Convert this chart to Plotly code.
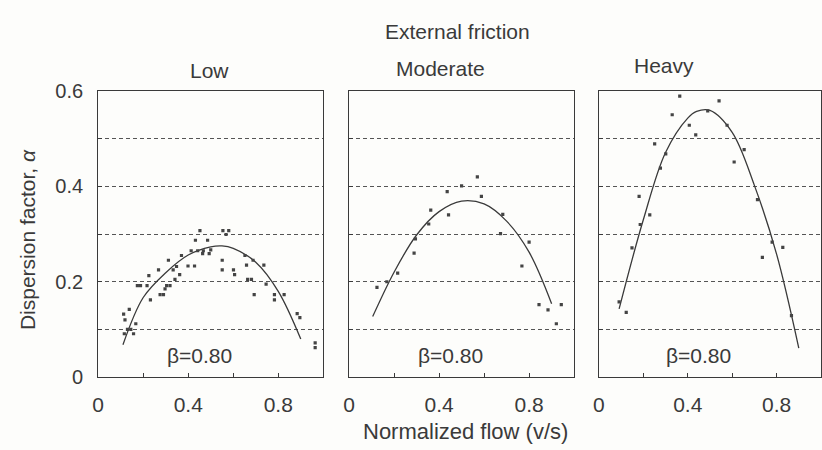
import plotly.graph_objects as go

# ---------------- data ----------------
low_x = [0.113, 0.119, 0.138, 0.116, 0.130, 0.145, 0.157, 0.167, 0.174, 0.188,
         0.217, 0.225, 0.232, 0.268, 0.275, 0.290, 0.297, 0.304, 0.312, 0.319,
         0.333, 0.341, 0.348, 0.362, 0.370, 0.399, 0.413, 0.428, 0.432, 0.442,
         0.452, 0.464, 0.467, 0.486, 0.493, 0.500, 0.551, 0.551, 0.554, 0.568,
         0.580, 0.601, 0.606, 0.652, 0.659, 0.664, 0.681, 0.688, 0.693, 0.736,
         0.746, 0.783, 0.783, 0.826, 0.884, 0.896, 0.964, 0.964]
low_y = [0.132, 0.120, 0.142, 0.091, 0.100, 0.100, 0.091, 0.112, 0.192, 0.192,
         0.192, 0.213, 0.162, 0.225, 0.173, 0.173, 0.185, 0.192, 0.245, 0.192,
         0.225, 0.205, 0.232, 0.215, 0.255, 0.233, 0.265, 0.233, 0.287, 0.265,
         0.307, 0.259, 0.265, 0.287, 0.259, 0.267, 0.245, 0.225, 0.307, 0.299,
         0.307, 0.225, 0.215, 0.255, 0.235, 0.205, 0.205, 0.245, 0.173, 0.235,
         0.195, 0.173, 0.162, 0.173, 0.133, 0.125, 0.072, 0.062]
low_fit_x = [0.11, 0.2, 0.3, 0.4, 0.5, 0.55, 0.6, 0.7, 0.8, 0.9]
low_fit_y = [0.068, 0.167, 0.219, 0.256, 0.273, 0.275, 0.270, 0.241, 0.180, 0.080]

mod_x = [0.124, 0.168, 0.216, 0.289, 0.295, 0.354, 0.363, 0.436, 0.442, 0.500,
         0.570, 0.588, 0.673, 0.683, 0.768, 0.800, 0.844, 0.884, 0.921, 0.943]
mod_y = [0.188, 0.200, 0.218, 0.260, 0.290, 0.321, 0.350, 0.389, 0.340, 0.401,
         0.420, 0.379, 0.301, 0.341, 0.233, 0.283, 0.152, 0.141, 0.112, 0.152]
mod_fit_x = [0.105, 0.2, 0.3, 0.4, 0.5, 0.6, 0.7, 0.8, 0.9]
mod_fit_y = [0.127, 0.220, 0.298, 0.347, 0.369, 0.363, 0.327, 0.262, 0.154]

hvy_x = [0.091, 0.123, 0.149, 0.181, 0.186, 0.229, 0.251, 0.277, 0.301, 0.330,
         0.364, 0.407, 0.436, 0.490, 0.541, 0.577, 0.609, 0.654, 0.714, 0.736,
         0.780, 0.828, 0.867]
hvy_y = [0.158, 0.136, 0.271, 0.379, 0.320, 0.340, 0.489, 0.438, 0.468, 0.550,
         0.589, 0.528, 0.508, 0.558, 0.579, 0.528, 0.451, 0.477, 0.372, 0.251,
         0.283, 0.272, 0.129]
hvy_fit_x = [0.091, 0.2, 0.3, 0.4, 0.44, 0.5, 0.6, 0.7, 0.8, 0.9]
hvy_fit_y = [0.143, 0.330, 0.471, 0.543, 0.557, 0.559, 0.513, 0.402, 0.258, 0.061]

panel_names = ["Low", "Moderate", "Heavy"]
beta_label = "β=0.80"
x_tickvals = [0, 0.2, 0.4, 0.6, 0.8]
x_ticktext = ["0", "", "0.4", "", "0.8"]
y_tickvals = [0, 0.1, 0.2, 0.3, 0.4, 0.5, 0.6]
y_ticktext = ["0", "", "0.2", "", "0.4", "", "0.6"]

# ---------------- figure ----------------
INK = "#3a3a3a"
FONT = "Liberation Sans, Arial, sans-serif"
W, H = 822, 450

fig = go.Figure()

panels = [
    (low_x, low_y, low_fit_x, low_fit_y),
    (mod_x, mod_y, mod_fit_x, mod_fit_y),
    (hvy_x, hvy_y, hvy_fit_x, hvy_fit_y),
]
x_doms = [(93, 320), (346, 573), (598, 826)]
title_pos = [(205, 63), (438, 60), (664, 57)]
y_dom = ((450 - 385) / H, (450 - 84) / H)

for i, (px, py, fx, fy) in enumerate(panels):
    xa = "x" if i == 0 else f"x{i+1}"
    ya = "y" if i == 0 else f"y{i+1}"
    fig.add_trace(go.Scatter(x=fx, y=fy, mode="lines", xaxis=xa, yaxis=ya,
                             line=dict(color=INK, width=1.3, shape="spline", smoothing=1.0),
                             showlegend=False, hoverinfo="skip"))
    fig.add_trace(go.Scatter(x=px, y=py, mode="markers", xaxis=xa, yaxis=ya,
                             marker=dict(symbol="square", size=3.2, color="#444444"),
                             showlegend=False))
    d0, d1 = x_doms[i]
    xkey = "xaxis" if i == 0 else f"xaxis{i+1}"
    ykey = "yaxis" if i == 0 else f"yaxis{i+1}"
    fig.layout[xkey] = dict(
        domain=[d0 / W, min(d1 / W, 1.0)], range=[0, 1.0], anchor=ya,
        showline=True, mirror=True, linecolor=INK, linewidth=1.2,
        ticks="inside", ticklen=4, tickcolor=INK,
        tickvals=x_tickvals, ticktext=x_ticktext, showgrid=False, zeroline=False,
        tickfont=dict(family=FONT, size=21, color=INK), ticklabelstandoff=9)
    fig.layout[ykey] = dict(
        domain=list(y_dom), range=[0, 0.6], anchor=xa,
        showline=True, mirror=True, linecolor=INK, linewidth=1.2,
        ticks="inside", ticklen=4, tickcolor=INK,
        tickvals=y_tickvals,
        ticktext=y_ticktext if i == 0 else [""] * len(y_tickvals),
        showgrid=True, gridcolor="#555555", griddash="4px,3px", gridwidth=1,
        zeroline=False,
        tickfont=dict(family=FONT, size=20, color=INK), ticklabelstandoff=10)
    fig.add_annotation(x=0.45, y=0.045, xref=xa, yref=ya, text=beta_label,
                       showarrow=False, xanchor="center", yanchor="middle",
                       font=dict(family=FONT, size=21, color=INK))
    tx, ty = title_pos[i]
    fig.add_annotation(x=tx / W, y=(H - ty) / H, xref="paper", yref="paper",
                       text=panel_names[i], showarrow=False,
                       xanchor="center", yanchor="middle",
                       font=dict(family=FONT, size=21, color=INK))

fig.add_annotation(x=455 / W, y=(H - 22) / H, xref="paper", yref="paper",
                   text="External friction", showarrow=False,
                   xanchor="center", yanchor="middle",
                   font=dict(family=FONT, size=21, color=INK))
fig.add_annotation(x=463 / W, y=(H - 442) / H, xref="paper", yref="paper",
                   text="Normalized flow (v/s)", showarrow=False,
                   xanchor="center", yanchor="middle",
                   font=dict(family=FONT, size=22, color=INK))
fig.add_annotation(x=21 / W, y=(H - 240) / H, xref="paper", yref="paper",
                   text="Dispersion factor, <i>α</i>", showarrow=False, textangle=-90,
                   xanchor="center", yanchor="middle",
                   font=dict(family=FONT, size=21, color=INK))

fig.update_layout(width=W, height=H, margin=dict(l=0, r=0, t=0, b=0),
                  paper_bgcolor="#fdfdfb", plot_bgcolor="#fdfdfb",
                  font=dict(family=FONT, color=INK))

fig.write_html("out.html")
